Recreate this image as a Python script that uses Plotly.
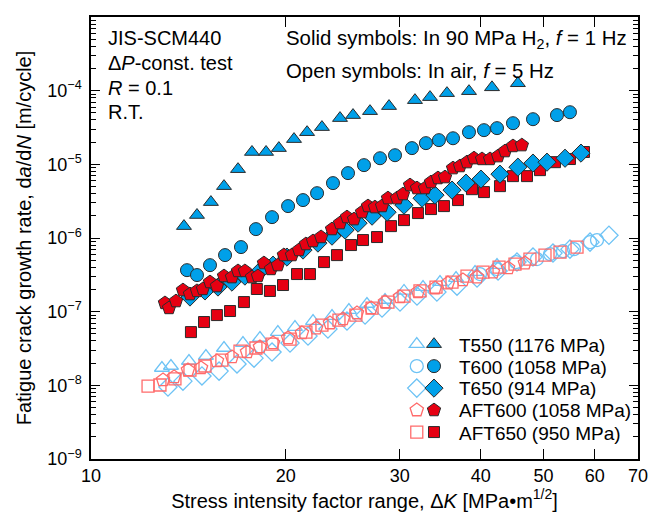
import plotly.graph_objects as go

# ---------------- data ----------------
# Solid symbols: in 90 MPa H2, f = 1 Hz
t550_h_dk = [13.92, 14.58, 15.32, 16.05, 16.87, 17.73, 18.64, 19.51, 20.59, 21.57, 22.74,
             24.25, 25.40, 26.98, 28.87, 31.66, 33.40, 35.48, 38.37, 41.64, 45.66]
t550_h_rate = [1.45e-6, 2.05e-6, 3.07e-6, 5.06e-6, 8.6e-6, 1.47e-5, 1.47e-5, 1.66e-5, 2.2e-5, 2.73e-5, 3.2e-5,
               4.24e-5, 4.66e-5, 5.27e-5, 6.17e-5, 7.43e-5, 8.17e-5, 9.25e-5, 9.84e-5, 1.11e-4, 1.26e-4]

t600_h_dk = [14.07, 14.58, 15.27, 16.11, 17.05, 17.98, 19.04, 20.16, 21.26, 22.35, 23.65, 24.95, 26.41,
             27.96, 29.49, 31.32, 32.92, 34.48, 36.25, 38.37, 40.47, 42.39, 44.87, 48.18, 52.47, 54.95]
t600_h_rate = [3.66e-7, 3.14e-7, 4.28e-7, 5.86e-7, 7.53e-7, 1.32e-6, 1.92e-6, 2.71e-6, 3.27e-6, 4.06e-6,
               5.56e-6, 7.6e-6, 9.75e-6, 1.21e-5, 1.33e-5, 1.66e-5, 1.94e-5, 2.13e-5, 2.26e-5, 2.73e-5,
               2.91e-5, 3.1e-5, 3.62e-5, 4.1e-5, 4.66e-5, 5.1e-5]

t650_h_dk = [14.22, 15.00, 15.71, 16.51, 17.29, 18.24, 19.11, 20.08, 21.26, 22.42, 23.57, 24.69, 25.86,
             27.18, 28.67, 30.45, 32.47, 34.00, 36.12, 37.96, 40.04, 42.84, 45.66, 48.18, 50.64, 54.00, 57.15]
t650_h_rate = [1.58e-7, 1.91e-7, 2.16e-7, 2.52e-7, 3.04e-7, 3.56e-7, 4.28e-7, 5.51e-7, 6.86e-7, 8.53e-7,
               1.06e-6, 1.28e-6, 1.59e-6, 1.98e-6, 2.24e-6, 2.79e-6, 3.47e-6, 3.82e-6, 4.47e-6, 5.56e-6,
               6.3e-6, 7.36e-6, 9.16e-6, 1.04e-5, 1.07e-5, 1.21e-5, 1.42e-5]

aft600_h_dk = [13.01, 13.20, 13.53, 13.87, 14.22, 14.58, 14.89, 15.27, 15.65, 16.05, 16.51, 16.87, 17.29,
               17.73, 18.11, 18.50, 18.97, 19.44, 19.86, 20.44, 20.96, 21.48, 22.03, 22.67, 23.57, 24.25,
               24.86, 25.49, 26.22, 26.79, 27.46, 28.16, 28.76, 29.70, 30.34, 31.11, 31.89, 32.81, 33.52,
               34.36, 35.23, 36.25, 37.16, 38.10, 39.06, 40.19, 41.35, 42.55, 43.62, 44.87, 46.31]
aft600_h_rate = [1.31e-7, 1.12e-7, 1.39e-7, 1.96e-7, 1.73e-7, 1.91e-7, 2.03e-7, 2.52e-7, 2.22e-7, 3.04e-7,
                 2.94e-7, 3.56e-7, 3.56e-7, 2.94e-7, 3.04e-7, 4.56e-7, 3.79e-7, 4.28e-7, 5.86e-7, 5.86e-7,
                 6.86e-7, 8.26e-7, 9.08e-7, 1.03e-6, 1.32e-6, 1.59e-6, 1.92e-6, 1.80e-6, 2.24e-6, 2.71e-6,
                 2.62e-6, 2.71e-6, 3.47e-6, 3.47e-6, 3.94e-6, 5.22e-6, 4.75e-6, 4.75e-6, 5.73e-6, 6.5e-6,
                 6.7e-6, 8.87e-6, 9.46e-6, 1.07e-5, 1.21e-5, 1.18e-5, 1.18e-5, 1.29e-5, 1.51e-5, 1.77e-5, 1.82e-5]

aft650_h_dk = [14.27, 14.95, 15.65, 16.40, 17.23, 18.04, 18.90, 19.80, 20.81, 21.79, 22.91, 23.99, 25.22,
               26.32, 27.66, 29.07, 30.45, 32.00, 33.52, 35.10, 36.90, 38.78, 40.47, 42.84, 44.87, 47.16,
               49.39, 52.10, 54.95, 57.76]
aft650_h_rate = [5.28e-8, 7.23e-8, 8.99e-8, 1.02e-7, 1.35e-7, 2.03e-7, 1.91e-7, 2.30e-7, 3.24e-7, 3.24e-7,
                 4.71e-7, 5.86e-7, 8.02e-7, 9.38e-7, 1.03e-6, 1.45e-6, 1.75e-6, 2.18e-6, 2.47e-6, 2.71e-6,
                 3.27e-6, 4.6e-6, 4.2e-6, 5.06e-6, 6.92e-6, 6.92e-6, 8.34e-6, 1.07e-5, 1.18e-5, 1.47e-5]

# Open symbols: in air, f = 5 Hz
t550_a_dk = [12.87, 13.29, 14.17, 15.05, 16.05, 17.17, 18.24, 19.44, 20.66, 22.03, 23.57, 25.03, 26.69,
             28.46, 30.45, 32.58, 34.61, 36.64, 39.20, 42.39]
t550_a_rate = [1.72e-8, 1.83e-8, 2.14e-8, 2.50e-8, 3.21e-8, 3.75e-8, 4.39e-8, 5.28e-8, 6.18e-8, 7.45e-8,
               8.71e-8, 1.05e-7, 1.27e-7, 1.44e-7, 1.91e-7, 2.16e-7, 2.52e-7, 2.86e-7, 3.44e-7, 4.28e-7]

t600_a_dk = [39.90, 42.39, 45.35, 48.87, 51.19, 53.61, 55.75, 59.02, 60.5]
t600_a_rate = [3.24e-7, 3.79e-7, 4.71e-7, 5.18e-7, 6.05e-7, 6.64e-7, 7.06e-7, 8.79e-7, 9.38e-7]

t650_a_dk = [13.15, 13.87, 14.84, 15.77, 16.81, 17.86, 19.04, 20.30, 21.64, 23.23, 24.86, 26.51, 28.16,
             30.02, 31.89, 34.23, 36.77, 39.48, 42.55, 45.51, 48.18, 51.73, 54.95, 59.02, 63.13]
t650_a_rate = [9.48e-9, 1.14e-8, 1.34e-8, 1.56e-8, 1.95e-8, 2.34e-8, 2.83e-8, 3.75e-8, 4.67e-8, 5.81e-8,
               7.45e-8, 8.99e-8, 1.12e-7, 1.35e-7, 1.63e-7, 1.85e-7, 2.22e-7, 2.86e-7, 3.56e-7, 4.71e-7,
               5.51e-7, 6.24e-7, 7.06e-7, 8.79e-7, 1.09e-6]

aft600_a_dk = [12.92, 13.44, 14.12, 14.79, 15.65, 16.51, 17.42, 18.24, 19.11, 20.16, 21.18, 22.27, 23.40,
               24.51, 25.76, 27.08, 28.46, 30.02, 32.00, 34.00, 35.60, 37.55, 39.48, 41.78, 44.09, 46.82]
aft600_a_rate = [1.18e-8, 1.30e-8, 1.61e-8, 1.72e-8, 2.14e-8, 2.42e-8, 2.83e-8, 3.31e-8, 3.75e-8, 4.39e-8,
                 5.13e-8, 5.98e-8, 7.0e-8, 7.94e-8, 9.57e-8, 1.12e-7, 1.35e-7, 1.58e-7, 1.85e-7, 2.09e-7,
                 2.44e-7, 2.69e-7, 2.94e-7, 3.44e-7, 3.91e-7, 4.56e-7]

aft650_a_dk = [12.25, 12.78, 13.48, 14.22, 15.00, 15.93, 16.99, 17.98, 19.04, 20.30, 21.48, 22.74, 24.16,
               25.66, 27.18, 28.76, 30.45, 32.23, 34.12, 36.12, 38.10, 40.33, 42.70, 45.19, 47.66, 50.28,
               53.04, 56.35]
aft650_a_rate = [9.77e-9, 1.01e-8, 1.22e-8, 1.61e-8, 1.83e-8, 2.2e-8, 2.92e-8, 3.21e-8, 3.63e-8, 4.25e-8,
                 5.28e-8, 6.58e-8, 7.69e-8, 8.99e-8, 1.12e-7, 1.35e-7, 1.63e-7, 1.91e-7, 2.16e-7, 2.52e-7,
                 3.04e-7, 3.44e-7, 4.03e-7, 4.43e-7, 5.18e-7, 5.86e-7, 6.44e-7, 7.53e-7]

series_names = ["T550 (1176 MPa)", "T600 (1058 MPa)", "T650 (914 MPa)",
                "AFT600 (1058 MPa)", "AFT650 (950 MPa)"]

x_tick_vals = [10, 20, 30, 40, 50, 60, 70]
x_tick_text = ["10", "20", "30", "40", "50", "60", "70"]
y_tick_vals = [1e-9, 1e-8, 1e-7, 1e-6, 1e-5, 1e-4, 1e-3]
y_tick_text = ["10<sup>−9</sup>", "10<sup>−8</sup>", "10<sup>−7</sup>", "10<sup>−6</sup>",
               "10<sup>−5</sup>", "10<sup>−4</sup>", "10<sup>−3</sup>"]
y_minor_vals = [m * 10.0 ** e for e in range(-9, -3) for m in range(2, 10)]

# ---------------- styles ----------------
FONT = "Liberation Sans, Arial, sans-serif"
BLUE = "#00A0E9"
RED = "#E60012"
LBLUE = "#6EC3F5"
LRED = "#FF6B6B"
EDGE = "#2b2b2b"

fig = go.Figure()

open_specs = [
    (t550_a_dk, t550_a_rate, "triangle-up-open", LBLUE, 13, 0),
    (t600_a_dk, t600_a_rate, "circle-open", LBLUE, 13, 1),
    (t650_a_dk, t650_a_rate, "diamond-open", LBLUE, 14, 2),
    (aft650_a_dk, aft650_a_rate, "square-open", LRED, 12, 4),
    (aft600_a_dk, aft600_a_rate, "pentagon-open", LRED, 14, 3),
]
for xs, ys, sym, col, sz, idx in open_specs:
    fig.add_trace(go.Scatter(
        x=xs, y=ys, mode="markers", name=" ", legend="legend", legendrank=idx + 1,
        marker=dict(symbol=sym, size=sz, color=col, line=dict(color=col, width=1.3)),
    ))

filled_specs = [
    (aft650_h_dk, aft650_h_rate, "square", RED, 11, 4),
    (t550_h_dk, t550_h_rate, "triangle-up", BLUE, 13, 0),
    (t600_h_dk, t600_h_rate, "circle", BLUE, 13, 1),
    (t650_h_dk, t650_h_rate, "diamond", BLUE, 14, 2),
    (aft600_h_dk, aft600_h_rate, "pentagon", RED, 14, 3),
]
for xs, ys, sym, col, sz, idx in filled_specs:
    fig.add_trace(go.Scatter(
        x=xs, y=ys, mode="markers", name=" ", legend="legend2", legendrank=idx + 1,
        marker=dict(symbol=sym, size=sz, color=col, line=dict(color=EDGE, width=1)),
    ))

def ann(x, y, text, size=20):
    fig.add_annotation(xref="paper", yref="paper", x=x, y=y, text=text, showarrow=False,
                       xanchor="left", yanchor="middle", font=dict(size=size, color="black", family=FONT))

ann(0.028, 0.952, "JIS-SCM440")
ann(0.028, 0.896, "Δ<i>P</i>-const. test")
ann(0.028, 0.839, "<i>R</i> = 0.1")
ann(0.028, 0.785, "R.T.")
ann(0.353, 0.950, "Solid symbols: In 90 MPa H<sub>2</sub>, <i>f</i> = 1 Hz", size=20.4)
ann(0.353, 0.878, "Open symbols: In air, <i>f</i> = 5 Hz", size=20.4)

# legend labels (one row per series, next to the open/solid symbol pair)
legend_rows_y = [0.2579, 0.2081, 0.1584, 0.1086, 0.0588]
for name, yy in zip(series_names, legend_rows_y):
    ann(0.669, yy, name, size=19)

axis_common = dict(showline=True, linecolor="black", linewidth=1.5, mirror="ticks",
                   ticks="inside", tickcolor="black", tickwidth=1.2, showgrid=False, zeroline=False,
                   automargin=False, tickfont=dict(size=18, family=FONT, color="black"))

LEG_FONT = dict(size=14.6, family=FONT)
fig.update_layout(
    width=667, height=520,
    margin=dict(l=83, r=37, t=9, b=69),
    paper_bgcolor="white", plot_bgcolor="white",
    font=dict(family=FONT, color="black"),
    xaxis=dict(type="log", range=[1, 1.8451], tickmode="array", tickvals=x_tick_vals,
               ticktext=x_tick_text, ticklen=10,
               title=dict(text="Stress intensity factor range, Δ<i>K</i> [MPa•m<sup>1/2</sup>]",
                          font=dict(size=20, family=FONT), standoff=6),
               **axis_common),
    yaxis=dict(type="log", range=[-9, -3], tickmode="array", tickvals=y_tick_vals,
               ticktext=y_tick_text, ticklen=9, ticklabelstandoff=4,
               minor=dict(ticks="inside", ticklen=5, tickcolor="black", tickwidth=1,
                          tickmode="array", tickvals=y_minor_vals, showgrid=False),
               title=dict(text="Fatigue crack growth rate, d<i>a</i>/d<i>N</i> [m/cycle]",
                          font=dict(size=20, family=FONT), standoff=10),
               **axis_common),
    legend=dict(x=0.559, y=0.296, xanchor="left", yanchor="top", bgcolor="rgba(0,0,0,0)",
                font=LEG_FONT, itemwidth=30, tracegroupgap=0),
    legend2=dict(x=0.5905, y=0.296, xanchor="left", yanchor="top", bgcolor="rgba(0,0,0,0)",
                 font=LEG_FONT, itemwidth=30, tracegroupgap=0),
    showlegend=True,
)

fig.write_html("out.html")
